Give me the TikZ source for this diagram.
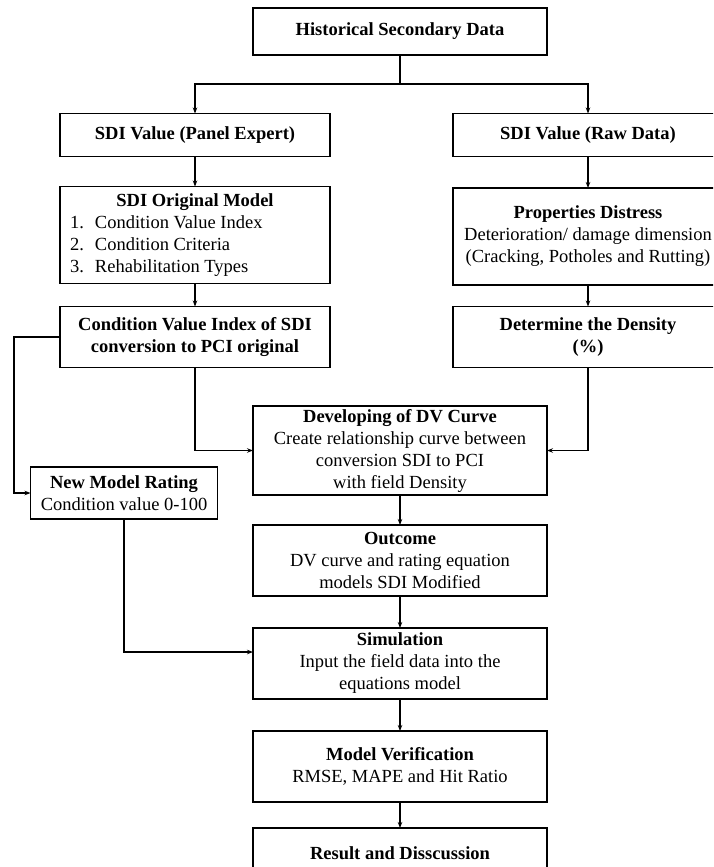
\documentclass[tikz,border=0pt]{standalone}
\usepackage{fontspec}
\setmainfont{Liberation Serif}
\usetikzlibrary{arrows.meta}
\tikzset{
  box/.style={draw, line width=1.2pt, inner sep=0pt, outer sep=0pt, align=center,
    font=\fontsize{18.5}{22}\selectfont},
  wide/.style={box, minimum width=294pt},
  side/.style={box, minimum width=270pt},
  arr/.style={line width=1.2pt, -{Stealth[length=6pt,width=4.5pt]}},
  ln/.style={line width=1.2pt}
}
\begin{document}
\begin{tikzpicture}[x=1pt,y=-1pt]
\useasboundingbox (0,0) rectangle (713,867);
\clip (0,0) rectangle (713,867);
\fill[white] (0,0) rectangle (713,867);

\node[wide, minimum height=47pt] (top) at (400,31.5) {\textbf{Historical Secondary Data}};
\node[side, minimum height=43pt] (pe) at (195,135) {\textbf{SDI Value (Panel Expert)}};
\node[side, minimum height=43pt] (raw) at (588,135) {\textbf{SDI Value (Raw Data)}};
\node[side, minimum height=97pt, align=left] (orig) at (195,235) {%
  \makebox[250pt][c]{\textbf{SDI Original Model}}\\
  \makebox[25pt][l]{1.}Condition Value Index\\
  \makebox[25pt][l]{2.}Condition Criteria\\
  \makebox[25pt][l]{3.}Rehabilitation Types};
\node[side, minimum height=97pt] (prop) at (588,236.5) {\textbf{Properties Distress}\\Deterioration/ damage dimension\\(Cracking, Potholes and Rutting)};
\node[side, minimum height=61pt] (cvi) at (195,337) {\textbf{Condition Value Index of SDI}\\\textbf{conversion to PCI original}};
\node[side, minimum height=61pt] (dens) at (588,337) {\textbf{Determine the Density}\\\textbf{(\%)}};
\node[wide, minimum height=89pt] (dv) at (400,450.5) {\textbf{Developing of DV Curve}\\Create relationship curve between\\conversion SDI to PCI\\with field Density};
\node[box, minimum width=187pt, minimum height=52pt] (nmr) at (124,493) {\textbf{New Model Rating}\\Condition value 0-100};
\node[wide, minimum height=71pt] (out) at (400,560.5) {\textbf{Outcome}\\DV curve and rating equation\\models SDI Modified};
\node[wide, minimum height=71pt] (sim) at (400,663.5) {\textbf{Simulation}\\Input the field data into the\\equations model};
\node[wide, minimum height=71pt] (ver) at (400,766.5) {\textbf{Model Verification}\\RMSE, MAPE and Hit Ratio};
\node[wide, minimum height=50pt] (res) at (400,853) {\textbf{Result and Disscussion}};

\coordinate (split) at (400,84);
\draw[ln] (top.south) -- (split);
\draw[arr] (split) -| (pe.north);
\draw[arr] (split) -| (raw.north);
\draw[arr] (pe) -- (orig);
\draw[arr] (raw) -- (prop);
\draw[arr] (orig) -- (cvi);
\draw[arr] (prop) -- (dens);
\coordinate (lft) at (14,337);
\draw[arr] (cvi.west) -- (lft) |- (nmr.west);
\draw[arr] (cvi.south) |- (dv.west);
\draw[arr] (dens.south) |- (dv.east);
\draw[arr] (dv) -- (out);
\draw[arr] (out) -- (sim);
\coordinate (simin) at (253,652);
\draw[arr] (nmr.south) |- (simin);
\draw[arr] (sim) -- (ver);
\draw[arr] (ver) -- (res);
\end{tikzpicture}
\end{document}
